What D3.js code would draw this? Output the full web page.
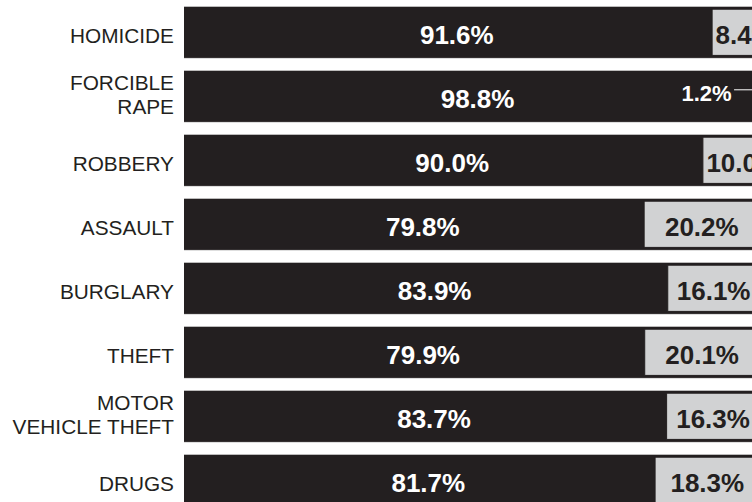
<!DOCTYPE html>
<html>
<head>
<meta charset="utf-8">
<script src="https://cdn.jsdelivr.net/npm/d3@7"></script>
<style>
  html, body { margin: 0; padding: 0; background: #ffffff; }
  svg { display: block; }
</style>
</head>
<body>
<svg id="chart" width="752" height="502"></svg>
<script>
// ---- data ----
const categories = ["HOMICIDE", "FORCIBLE\nRAPE", "ROBBERY", "ASSAULT", "BURGLARY", "THEFT", "MOTOR\nVEHICLE THEFT", "DRUGS"];
const darkValues = [91.6, 98.8, 90.0, 79.8, 83.9, 79.9, 83.7, 81.7];
const lightValues = [8.4, 1.2, 10.0, 20.2, 16.1, 20.1, 16.3, 18.3];

// ---- style ----
const DARK = "#231f20";
const LIGHT = "#d1d2d3";
const FONT = "'Liberation Sans', Arial, Helvetica, sans-serif";

const svg = d3.select("#chart");

const rows = categories.map((c, i) => ({
  cat: c,
  dark: darkValues[i],
  light: lightValues[i]
}));

const x = d3.scaleLinear().domain([0, 100]).range([184, 760]);
const y = d3.scaleBand()
  .domain(categories)
  .range([0.3, 512.3])
  .paddingInner(0.2)
  .paddingOuter(0.1);

const bh = y.bandwidth();

const g = svg.selectAll("g.row").data(rows).join("g").attr("class", "row")
  .attr("transform", d => `translate(0,${y(d.cat)})`);

// subtle bottom edge
g.append("rect")
  .attr("x", x(0)).attr("y", bh - 0.5)
  .attr("width", x(100) - x(0)).attr("height", 1.2)
  .attr("fill", "#c9c9c9");

// dark full bar
g.append("rect")
  .attr("x", x(0)).attr("y", 0)
  .attr("width", x(100) - x(0)).attr("height", bh)
  .attr("fill", DARK);

// light segment
g.append("rect")
  .attr("x", d => x(d.dark) + 0.5)
  .attr("y", 2.5)
  .attr("width", d => x(100) - x(d.dark))
  .attr("height", bh - 5)
  .attr("fill", LIGHT)
  .attr("stroke", DARK)
  .attr("stroke-width", 1);

// category labels
g.each(function(d) {
  const lines = d.cat.split("\n");
  const t = d3.select(this).append("text")
    .attr("text-anchor", "end")
    .attr("font-family", FONT)
    .attr("font-size", 20.8)
    .attr("fill", DARK);
  if (lines.length === 1) {
    t.append("tspan").attr("x", 174).attr("y", bh / 2 + 10.6).text(lines[0]);
  } else {
    lines.forEach((l, k) => {
      t.append("tspan").attr("x", 174).attr("y", bh / 2 - 5.8 + k * 23.6).text(l);
    });
  }
});

// dark value labels
g.append("text")
  .attr("x", d => (x(0) + x(d.dark)) / 2 + 9)
  .attr("y", bh / 2 + 12.2)
  .attr("text-anchor", "middle")
  .attr("font-family", FONT)
  .attr("font-weight", "bold")
  .attr("font-size", 26)
  .attr("fill", "#ffffff")
  .text(d => d.dark.toFixed(1) + "%");

// light value labels
g.each(function(d) {
  const sel = d3.select(this);
  const label = d.light.toFixed(1) + "%";
  if (d.light < 5) {
    // small segment: label outside with leader line
    const end = x(d.dark) - 21.5;
    sel.append("text")
      .attr("x", end)
      .attr("y", bh / 2 + 4.5)
      .attr("text-anchor", "end")
      .attr("font-family", FONT)
      .attr("font-weight", "bold")
      .attr("font-size", 22)
      .attr("fill", "#ffffff")
      .text(label);
    sel.append("line")
      .attr("x1", end + 2.5).attr("x2", x(d.dark) + 2)
      .attr("y1", bh / 2 - 6.5).attr("y2", bh / 2 - 6.5)
      .attr("stroke", "#ffffff")
      .attr("stroke-width", 1);
  } else {
    const t = sel.append("text")
      .attr("y", bh / 2 + 12.2)
      .attr("text-anchor", "middle")
      .attr("font-family", FONT)
      .attr("font-weight", "bold")
      .attr("font-size", 26)
      .attr("fill", DARK)
      .text(label);
    const w = t.node().getComputedTextLength();
    const cx = Math.max((x(d.dark) + x(100)) / 2, x(d.dark) + w / 2 + 4);
    t.attr("x", cx);
  }
});
</script>
</body>
</html>
